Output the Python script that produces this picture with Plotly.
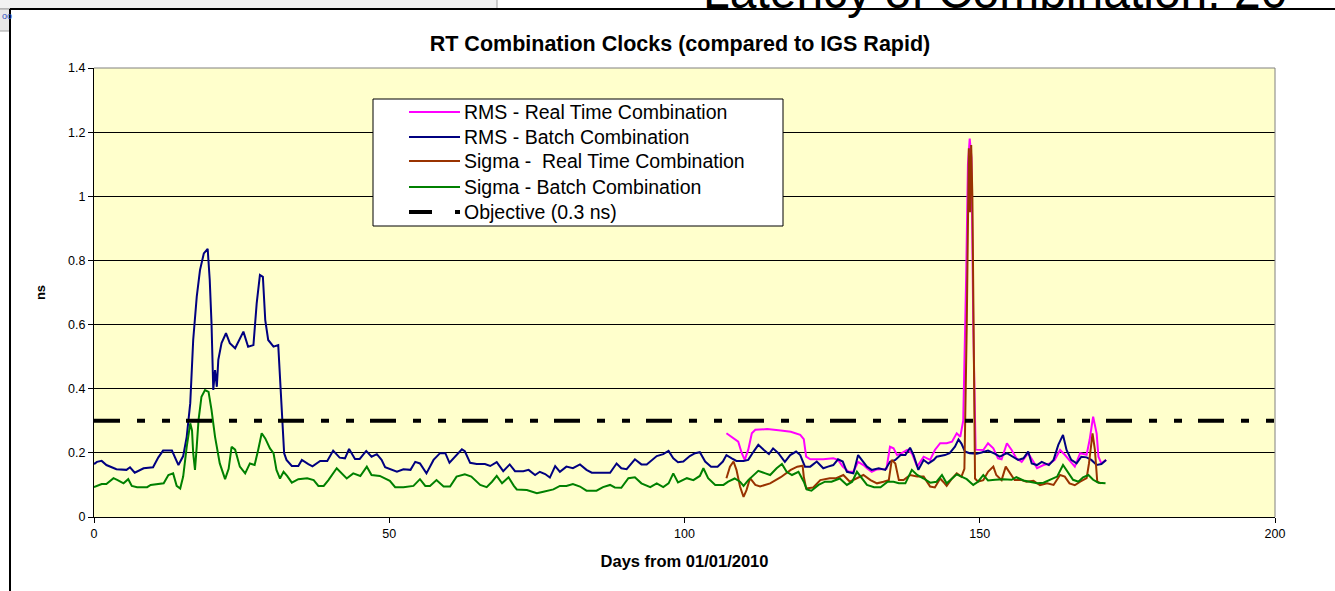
import plotly.graph_objects as go

# ---------------- data ----------------
rms_batch_days = [0.0, 0.5, 1.3, 2.1, 3.0, 3.8, 5.5, 6.1, 6.9, 8.4, 10.0, 10.9, 11.7, 13.2, 14.3, 15.1, 15.7,
                  16.3, 16.8, 17.4, 17.95, 18.6, 19.25, 19.6, 19.9, 20.2, 20.5, 20.8, 21.05, 21.6, 22.35, 23.0,
                  23.9, 24.6, 25.3, 26.1, 27.0, 27.55, 28.1, 28.6, 29.0, 29.5, 30.4, 31.2, 31.5, 31.8, 32.2,
                  32.6, 33.5, 34.6, 35.2, 36.3, 37.0, 38.3, 39.5, 40.5, 41.6, 42.5, 43.2, 44.2, 45.0, 46.1,
                  47.0, 47.9, 48.7, 49.3, 49.8, 51.3, 52.4, 53.6, 54.4, 55.2, 56.3, 57.5, 58.6, 59.5, 60.2,
                  61.1, 62.3, 62.8, 63.7, 64.8, 66.2, 67.1, 68.2, 69.3, 70.4, 71.3, 72.7, 73.6, 74.7, 75.5,
                  76.4, 77.2, 78.1, 78.9, 80.0, 81.1, 82.3, 83.4, 84.3, 85.7, 87.4, 88.5, 89.3, 90.2, 91.6,
                  92.7, 93.6, 95.3, 96.4, 97.3, 98.1, 98.9, 99.8, 100.9, 101.8, 102.6, 103.5, 104.5, 105.6,
                  106.5, 107.1, 108.0, 108.8, 110.0, 110.8, 111.7, 112.5, 113.4, 114.3, 115.0, 115.9, 117.0,
                  117.9, 118.9, 119.6, 120.4, 121.3, 122.4, 123.5, 124.3, 125.2, 126.0, 126.8, 127.5, 128.6,
                  129.4, 130.3, 130.9, 131.7, 132.9, 134.0, 134.8, 135.7, 136.6, 137.4, 138.2, 138.8, 139.6,
                  140.5, 141.3, 142.2, 142.7, 144.1, 144.9, 145.8, 146.4, 146.9, 147.5, 148.3, 149.5, 150.3,
                  151.4, 152.6, 153.4, 154.6, 155.7, 156.5, 157.4, 158.2, 158.8, 159.7, 160.5, 161.7, 162.5,
                  163.3, 164.1, 164.7, 165.5, 166.4, 167.2, 168.1, 168.9, 169.8, 170.6, 171.4]
rms_batch_vals = [0.165, 0.172, 0.175, 0.162, 0.155, 0.149, 0.147, 0.155, 0.138, 0.152, 0.155, 0.186, 0.207,
                  0.207, 0.162, 0.19, 0.25, 0.355, 0.552, 0.687, 0.77, 0.822, 0.836, 0.739, 0.604, 0.396,
                  0.458, 0.406, 0.49, 0.542, 0.573, 0.542, 0.526, 0.552, 0.578, 0.531, 0.536, 0.666, 0.755,
                  0.749, 0.614, 0.552, 0.531, 0.536, 0.427, 0.313, 0.199, 0.178, 0.159, 0.159, 0.178, 0.165,
                  0.158, 0.175, 0.175, 0.207, 0.185, 0.183, 0.212, 0.181, 0.181, 0.206, 0.188, 0.196, 0.178,
                  0.155, 0.152, 0.141, 0.149, 0.147, 0.172, 0.167, 0.136, 0.178, 0.199, 0.199, 0.169, 0.188,
                  0.211, 0.205, 0.169, 0.165, 0.165, 0.159, 0.171, 0.143, 0.164, 0.143, 0.143, 0.147, 0.131,
                  0.141, 0.134, 0.123, 0.159, 0.141, 0.157, 0.152, 0.164, 0.147, 0.138, 0.138, 0.138, 0.167,
                  0.152, 0.149, 0.18, 0.164, 0.164, 0.19, 0.196, 0.206, 0.183, 0.171, 0.173, 0.19, 0.199,
                  0.202, 0.173, 0.157, 0.157, 0.173, 0.193, 0.183, 0.175, 0.175, 0.178, 0.204, 0.225, 0.21,
                  0.196, 0.214, 0.199, 0.172, 0.193, 0.204, 0.193, 0.157, 0.157, 0.173, 0.152, 0.157, 0.162,
                  0.18, 0.173, 0.141, 0.136, 0.193, 0.173, 0.157, 0.147, 0.152, 0.147, 0.172, 0.178, 0.193,
                  0.193, 0.216, 0.193, 0.147, 0.178, 0.167, 0.178, 0.188, 0.193, 0.199, 0.219, 0.242, 0.229,
                  0.204, 0.199, 0.197, 0.201, 0.207, 0.197, 0.188, 0.199, 0.188, 0.178, 0.183, 0.204, 0.167,
                  0.162, 0.172, 0.162, 0.178, 0.225, 0.256, 0.209, 0.178, 0.167, 0.188, 0.186, 0.178, 0.162,
                  0.165, 0.178]

sigma_batch_days = [0.0, 1.3, 2.1, 3.3, 4.0, 5.0, 5.8, 6.4, 7.3, 9.0, 9.6, 11.1, 11.8, 12.6, 13.4, 14.0, 14.6,
                    15.1, 15.7, 16.3, 16.6, 16.8, 17.1, 17.4, 17.7, 18.2, 18.8, 19.4, 19.9, 20.5, 21.3, 22.2,
                    22.8, 23.3, 23.9, 24.7, 25.6, 26.4, 27.2, 27.8, 28.4, 29.0, 29.8, 30.4, 30.9, 31.5, 32.1,
                    32.7, 33.5, 34.6, 36.1, 37.2, 38.0, 38.9, 39.7, 41.1, 42.0, 42.8, 43.9, 45.1, 46.2, 47.0,
                    48.4, 49.3, 50.1, 51.0, 52.4, 54.1, 55.2, 56.1, 56.9, 58.0, 59.2, 60.3, 61.4, 62.8, 63.9,
                    65.4, 66.5, 67.4, 68.2, 69.1, 70.2, 71.1, 71.6, 73.3, 75.0, 76.1, 77.8, 78.9, 80.0, 81.1,
                    82.3, 83.4, 85.1, 86.2, 87.4, 88.2, 89.3, 90.5, 91.6, 92.7, 94.2, 95.3, 96.4, 97.3, 98.1,
                    98.9, 99.8, 100.4, 101.5, 102.6, 103.2, 104.0, 105.2, 106.6, 107.4, 108.5, 109.4, 110.0,
                    110.8, 111.7, 112.5, 113.7, 114.5, 115.6, 116.5, 117.3, 118.2, 119.3, 120.2, 120.7, 121.5,
                    122.7, 123.8, 124.9, 126.3, 127.5, 128.4, 129.2, 130.1, 130.9, 132.1, 133.2, 134.4, 135.4,
                    136.3, 137.4, 138.5, 139.4, 140.5, 141.6, 142.7, 143.6, 144.4, 145.3, 146.1, 146.9, 147.8,
                    148.9, 149.7, 150.6, 151.4, 152.6, 154.0, 155.4, 156.2, 157.4, 158.5, 159.7, 160.8, 161.9,
                    163.1, 164.1, 165.0, 165.8, 166.7, 167.5, 168.4, 169.2, 170.1, 171.3]
sigma_batch_vals = [0.093, 0.103, 0.103, 0.121, 0.115, 0.105, 0.118, 0.097, 0.093, 0.093, 0.1, 0.105, 0.105,
                    0.131, 0.136, 0.097, 0.089, 0.126, 0.219, 0.292, 0.27, 0.199, 0.147, 0.22, 0.302, 0.375,
                    0.396, 0.39, 0.334, 0.25, 0.167, 0.118, 0.15, 0.219, 0.21, 0.157, 0.136, 0.167, 0.162,
                    0.209, 0.261, 0.245, 0.214, 0.199, 0.147, 0.12, 0.141, 0.128, 0.107, 0.118, 0.121, 0.115,
                    0.097, 0.097, 0.115, 0.152, 0.136, 0.12, 0.136, 0.128, 0.157, 0.131, 0.128, 0.12, 0.113,
                    0.093, 0.093, 0.097, 0.118, 0.097, 0.097, 0.115, 0.095, 0.095, 0.126, 0.133, 0.126, 0.1,
                    0.093, 0.11, 0.128, 0.105, 0.124, 0.097, 0.086, 0.084, 0.074, 0.079, 0.086, 0.097, 0.097,
                    0.103, 0.095, 0.082, 0.082, 0.093, 0.1, 0.092, 0.091, 0.121, 0.124, 0.105, 0.093, 0.105,
                    0.093, 0.105, 0.136, 0.108, 0.115, 0.121, 0.115, 0.128, 0.152, 0.121, 0.1, 0.1, 0.11,
                    0.12, 0.11, 0.097, 0.115, 0.131, 0.144, 0.136, 0.131, 0.152, 0.165, 0.141, 0.131, 0.141,
                    0.11, 0.086, 0.082, 0.1, 0.11, 0.11, 0.12, 0.1, 0.11, 0.141, 0.12, 0.1, 0.093, 0.093,
                    0.11, 0.11, 0.105, 0.105, 0.147, 0.131, 0.12, 0.107, 0.11, 0.131, 0.105, 0.12, 0.133,
                    0.126, 0.118, 0.1, 0.11, 0.131, 0.114, 0.116, 0.118, 0.116, 0.124, 0.114, 0.11, 0.105,
                    0.107, 0.116, 0.126, 0.162, 0.136, 0.116, 0.11, 0.124, 0.131, 0.116, 0.107, 0.105]

rms_rt_days = [107.1, 108.3, 109.1, 109.7, 110.2, 110.8, 111.4, 112.0, 114.0, 116.3, 118.0, 119.6, 120.2,
               120.6, 121.3, 123.5, 125.2, 126.0, 126.8, 127.8, 128.6, 129.4, 130.3, 130.9, 131.7, 132.5,
               134.2, 134.8, 135.4, 136.0, 136.8, 137.7, 138.5, 139.4, 140.5, 141.6, 142.4, 143.3, 144.4,
               145.3, 146.1, 146.7, 147.2, 147.7, 148.0, 148.3, 148.6, 148.9, 149.3, 150.6, 151.4, 152.3,
               153.1, 153.7, 154.6, 155.4, 156.2, 157.1, 158.2, 159.1, 159.7, 160.8, 161.9, 162.7, 163.6,
               164.4, 165.2, 166.1, 167.0, 168.1, 168.6, 169.2, 169.8, 170.1, 170.6, 171.4]
rms_rt_vals = [0.261, 0.245, 0.235, 0.199, 0.178, 0.21, 0.261, 0.272, 0.274, 0.27, 0.266, 0.256, 0.243,
               0.188, 0.18, 0.18, 0.183, 0.178, 0.157, 0.141, 0.141, 0.172, 0.162, 0.152, 0.141, 0.148,
               0.15, 0.219, 0.214, 0.193, 0.199, 0.209, 0.199, 0.157, 0.188, 0.178, 0.209, 0.23, 0.23,
               0.235, 0.261, 0.25, 0.3, 0.75, 1.1, 1.18, 1.12, 0.6, 0.21, 0.209, 0.23, 0.214, 0.183, 0.18,
               0.23, 0.209, 0.183, 0.172, 0.199, 0.172, 0.152, 0.162, 0.167, 0.178, 0.209, 0.194, 0.178,
               0.157, 0.199, 0.194, 0.24, 0.313, 0.26, 0.188, 0.167, 0.178]

sigma_rt_days = [107.1, 107.7, 108.3, 108.8, 109.4, 110.0, 110.5, 111.1, 112.0, 112.8, 114.5, 116.3, 118.0,
                 119.1, 120.0, 120.2, 120.6, 121.8, 123.0, 124.6, 125.7, 126.9, 128.0, 129.2, 130.3, 131.5,
                 132.6, 133.7, 134.6, 135.1, 135.7, 136.3, 137.1, 138.2, 139.4, 140.5, 141.6, 142.4, 143.3,
                 143.8, 144.4, 145.3, 146.1, 146.9, 147.4, 147.8, 148.0, 148.15, 148.35, 148.55, 148.75,
                 149.0, 149.2, 149.7, 150.6, 151.4, 152.3, 152.8, 153.7, 154.4, 155.1, 155.9, 157.1, 157.9,
                 159.1, 160.2, 161.4, 162.5, 163.6, 164.4, 165.2, 166.1, 167.0, 168.1, 168.5, 169.1, 169.5,
                 169.9, 170.6]
sigma_rt_vals = [0.121, 0.157, 0.173, 0.147, 0.095, 0.063, 0.084, 0.121, 0.1, 0.095, 0.105, 0.124, 0.147,
                 0.157, 0.16, 0.126, 0.089, 0.092, 0.115, 0.121, 0.121, 0.131, 0.11, 0.121, 0.131, 0.115,
                 0.105, 0.11, 0.115, 0.178, 0.167, 0.115, 0.115, 0.131, 0.126, 0.126, 0.095, 0.092, 0.12,
                 0.11, 0.097, 0.12, 0.136, 0.126, 0.15, 0.6, 1.0, 1.15, 0.95, 1.16, 1.0, 0.45, 0.12, 0.11,
                 0.115, 0.141, 0.157, 0.131, 0.115, 0.157, 0.136, 0.115, 0.115, 0.11, 0.113, 0.099, 0.105,
                 0.1, 0.131, 0.126, 0.105, 0.099, 0.11, 0.121, 0.167, 0.261, 0.209, 0.11, 0.105]

objective_days = [0, 200]
objective_vals = [0.3, 0.3]

series_names = ["RMS - Real Time Combination", "RMS - Batch Combination",
                "Sigma -  Real Time Combination", "Sigma - Batch Combination", "Objective (0.3 ns)"]
series_colors = ["#FF00FF", "#000080", "#993300", "#008000", "#000000"]

x_ticks = [0, 50, 100, 150, 200]
y_ticks = [0, 0.2, 0.4, 0.6, 0.8, 1.0, 1.2, 1.4]
y_tick_labels = ["0", "0.2", "0.4", "0.6", "0.8", "1", "1.2", "1.4"]

# ---------------- layout geometry ----------------
W, H = 1335, 591
L, R, T, B = 94, 1275, 68, 517
FONT = "Arial, 'Liberation Sans', sans-serif"
DASH_OBJ = "26px,17px,8px,17px,8px,16px"


def px(xp):
    return (xp - L) / (R - L)


def py(yp):
    return (B - yp) / (B - T)


fig = go.Figure()
xs = [rms_rt_days, rms_batch_days, sigma_rt_days, sigma_batch_days]
ys = [rms_rt_vals, rms_batch_vals, sigma_rt_vals, sigma_batch_vals]
for i in range(4):
    fig.add_trace(go.Scatter(x=xs[i], y=ys[i], mode="lines", name=series_names[i],
                             line=dict(color=series_colors[i], width=2), showlegend=False))
fig.add_trace(go.Scatter(x=objective_days, y=objective_vals, mode="lines", name=series_names[4],
                         line=dict(color="black", width=4, dash=DASH_OBJ), showlegend=False))

shapes = []
annotations = []

# plot area border (grey top/right)
shapes.append(dict(type="line", xref="paper", yref="paper", x0=0, x1=1, y0=1, y1=1,
                   line=dict(color="#808080", width=1), layer="above"))
shapes.append(dict(type="line", xref="paper", yref="paper", x0=1, x1=1, y0=0, y1=1,
                   line=dict(color="#808080", width=1), layer="above"))

# screenshot surroundings: toolbar strip, chart frame
shapes.append(dict(type="rect", xref="paper", yref="paper", x0=px(-2), x1=px(497), y0=py(9), y1=py(-2),
                   fillcolor="#F2F2F2", line=dict(color="#A0A0A0", width=1), layer="below"))
shapes.append(dict(type="rect", xref="paper", yref="paper", x0=px(-2), x1=px(10), y0=py(31), y1=py(9),
                   fillcolor="#E8E8E8", line=dict(color="#A0A0A0", width=1), layer="below"))
shapes.append(dict(type="line", xref="paper", yref="paper", x0=px(10), x1=px(1340), y0=py(9), y1=py(9),
                   line=dict(color="black", width=2), layer="below"))
shapes.append(dict(type="line", xref="paper", yref="paper", x0=px(10), x1=px(10), y0=py(9), y1=py(600),
                   line=dict(color="black", width=2), layer="below"))
annotations.append(dict(text="oo", xref="paper", yref="paper", x=px(0), y=py(16), xanchor="left",
                        yanchor="middle", showarrow=False, font=dict(family=FONT, size=9, color="#3050C0")))
annotations.append(dict(text="Latency of Combination: 20", xref="paper", yref="paper",
                        x=px(995), y=py(-8), xanchor="center", yanchor="middle", showarrow=False,
                        font=dict(family=FONT, size=48, color="black")))

# legend box (drawn)
leg_x0, leg_x1, leg_y0, leg_y1 = 373, 783, 99, 226
shapes.append(dict(type="rect", xref="paper", yref="paper", x0=px(leg_x0), x1=px(leg_x1),
                   y0=py(leg_y1), y1=py(leg_y0), fillcolor="white", line=dict(color="black", width=1),
                   layer="above"))
entry_y = [112, 137, 161, 187, 212]
for i in range(5):
    yy = py(entry_y[i])
    if i < 4:
        shapes.append(dict(type="line", xref="paper", yref="paper", x0=px(409), x1=px(460), y0=yy, y1=yy,
                           line=dict(color=series_colors[i], width=2), layer="above"))
    else:
        shapes.append(dict(type="line", xref="paper", yref="paper", x0=px(409), x1=px(432), y0=yy, y1=yy,
                           line=dict(color="black", width=4), layer="above"))
        shapes.append(dict(type="line", xref="paper", yref="paper", x0=px(455), x1=px(460), y0=yy, y1=yy,
                           line=dict(color="black", width=4), layer="above"))
    annotations.append(dict(text=series_names[i].replace("  ", "&nbsp; "), xref="paper", yref="paper",
                            x=px(462), y=yy, xanchor="left", yanchor="middle", showarrow=False,
                            font=dict(family=FONT, size=19.5, color="black")))

fig.update_layout(
    width=W, height=H,
    margin=dict(l=L, r=W - R, t=T, b=H - B, pad=0),
    paper_bgcolor="white",
    plot_bgcolor="#FFFFCC",
    font=dict(family=FONT, size=12, color="black"),
    title=dict(text="<b>RT Combination Clocks (compared to IGS Rapid)</b>", x=px(680), xanchor="center",
               xref="paper", y=1 - 43 / H, yanchor="middle", font=dict(family=FONT, size=21.5, color="black")),
    xaxis=dict(range=[0, 200], tickvals=x_ticks, ticks="outside", ticklen=5, tickcolor="black",
               showline=True, linecolor="black", linewidth=1, showgrid=False, zeroline=False,
               tickfont=dict(size=12.5), fixedrange=True,
               title=dict(text="<b>Days from 01/01/2010</b>", font=dict(size=16.5), standoff=15)),
    yaxis=dict(range=[0, 1.4], tickvals=y_ticks, ticktext=y_tick_labels, ticks="outside", ticklen=5,
               tickcolor="black", showline=True, linecolor="black", linewidth=1, showgrid=True,
               gridcolor="black", gridwidth=1, zeroline=False, tickfont=dict(size=12.5), fixedrange=True,
               title=dict(text="<b>ns</b>", font=dict(size=13), standoff=19)),
    shapes=shapes,
    annotations=annotations,
    showlegend=False,
)

fig.write_html("out.html", config={"displayModeBar": False},
               post_script="document.body.style.margin='0';document.body.style.overflow='hidden';")
